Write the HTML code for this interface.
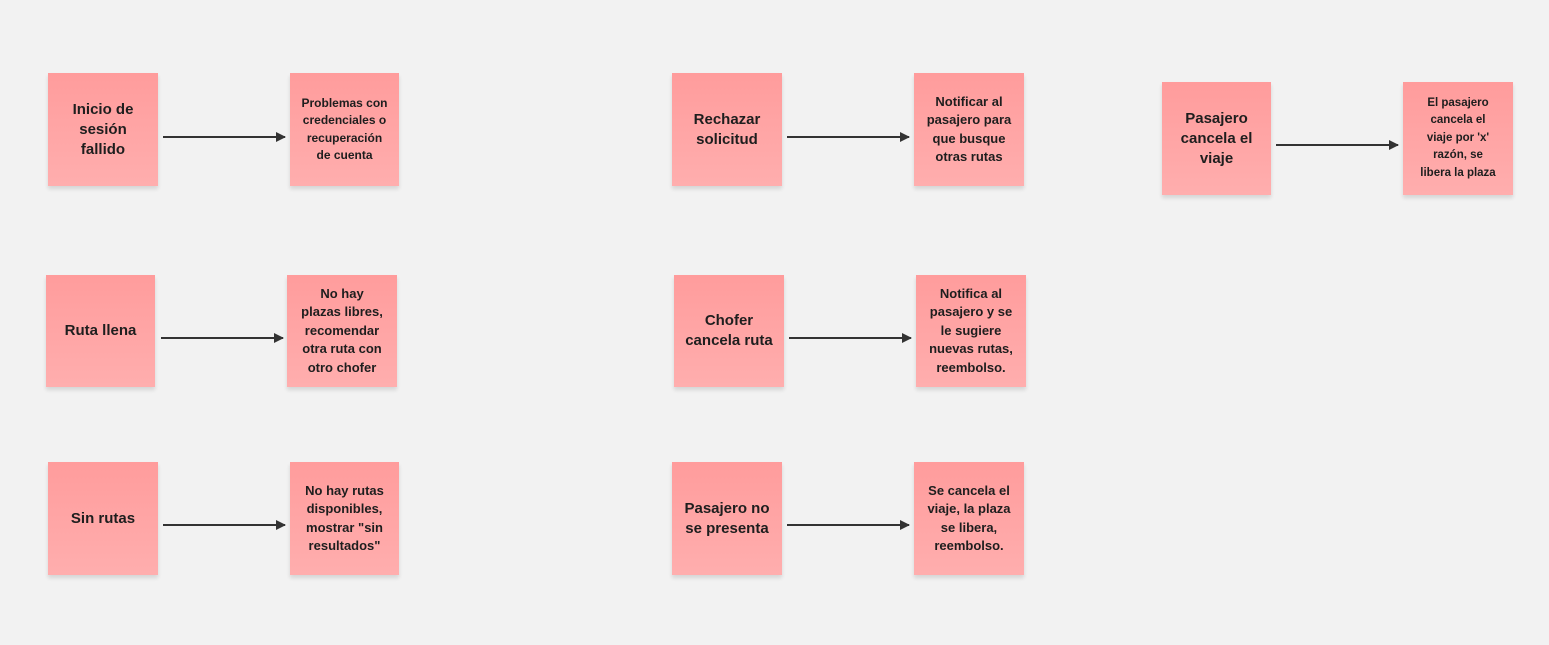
<!DOCTYPE html>
<html><head><meta charset="utf-8"><style>
body{margin:0;width:1549px;height:645px;background:#f2f2f2;position:relative;overflow:hidden;font-family:"Liberation Sans","DejaVu Sans",sans-serif;}
.n{position:absolute;width:110px;height:113px;background:linear-gradient(#ff9c9c,#ffaeae);box-shadow:0 3px 4px rgba(0,0,0,0.12);display:flex;align-items:center;justify-content:center;text-align:center;color:#1e1e1e;font-weight:bold;box-sizing:border-box;white-space:nowrap;}
.b{font-size:15px;line-height:20px;}
.s{font-size:12px;line-height:17.5px;}
svg{position:absolute;left:0;top:0;}
</style></head><body>
<svg width="1549" height="645">
<defs><marker id="a" markerWidth="10" markerHeight="10" refX="9" refY="5" orient="auto" markerUnits="userSpaceOnUse"><path d="M0,0 L10,5 L0,10 z" fill="#333"/></marker></defs>
<g stroke="#333" stroke-width="2" marker-end="url(#a)">
<line x1="163" y1="137" x2="285" y2="137"/>
<line x1="787" y1="137" x2="909" y2="137"/>
<line x1="1276" y1="145" x2="1398" y2="145"/>
<line x1="161" y1="338" x2="283" y2="338"/>
<line x1="789" y1="338" x2="911" y2="338"/>
<line x1="163" y1="525" x2="285" y2="525"/>
<line x1="787" y1="525" x2="909" y2="525"/>
</g></svg>
<div class="n b" style="left:48px;top:73px">Inicio de<br>sesión<br>fallido</div>
<div class="n s" style="left:290px;top:73px;width:109px">Problemas con<br>credenciales o<br>recuperación<br>de cuenta</div>
<div class="n b" style="left:672px;top:73px">Rechazar<br>solicitud</div>
<div class="n s" style="left:914px;top:73px;font-size:13px;line-height:18.5px">Notificar al<br>pasajero para<br>que busque<br>otras rutas</div>
<div class="n b" style="left:1162px;top:82px;width:109px">Pasajero<br>cancela el<br>viaje</div>
<div class="n s" style="left:1403px;top:82px;font-size:11.5px">El pasajero<br>cancela el<br>viaje por 'x'<br>razón, se<br>libera la plaza</div>
<div class="n b" style="left:46px;top:275px;width:109px;height:112px">Ruta llena</div>
<div class="n s" style="left:287px;top:275px;height:112px;font-size:13px;line-height:18.5px">No hay<br>plazas libres,<br>recomendar<br>otra ruta con<br>otro chofer</div>
<div class="n b" style="left:674px;top:275px;height:112px">Chofer<br>cancela ruta</div>
<div class="n s" style="left:916px;top:275px;height:112px;font-size:13px;line-height:18.5px">Notifica al<br>pasajero y se<br>le sugiere<br>nuevas rutas,<br>reembolso.</div>
<div class="n b" style="left:48px;top:462px">Sin rutas</div>
<div class="n s" style="left:290px;top:462px;width:109px;font-size:13px;line-height:18.5px">No hay rutas<br>disponibles,<br>mostrar "sin<br>resultados"</div>
<div class="n b" style="left:672px;top:462px">Pasajero no<br>se presenta</div>
<div class="n s" style="left:914px;top:462px;font-size:13px;line-height:18.5px">Se cancela el<br>viaje, la plaza<br>se libera,<br>reembolso.</div>
</body></html>
